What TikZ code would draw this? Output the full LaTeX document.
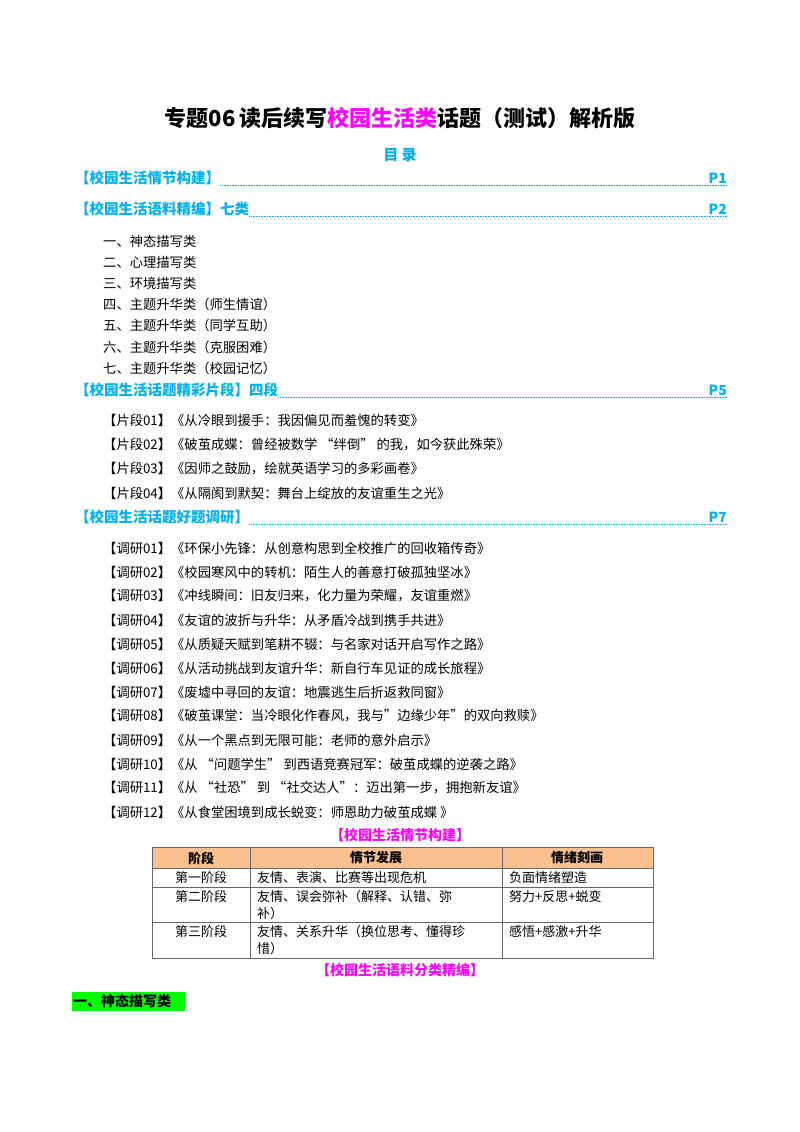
\documentclass[tikz,border=0pt]{standalone}
\usepackage{fontspec}
\setmainfont{Noto Sans CJK SC}
\definecolor{cy}{RGB}{0,176,240}
\definecolor{mg}{RGB}{255,0,255}
\definecolor{hd}{RGB}{250,192,143}
\definecolor{gr}{RGB}{0,255,0}
\begin{document}
\begin{tikzpicture}[x=1pt,y=-1pt,
  txt/.style={anchor=west,inner sep=0pt,font=\fontsize{13.3}{15}\selectfont},
  head/.style={anchor=west,inner sep=0pt,text=cy,font=\fontsize{14.5}{16}\selectfont\bfseries},
  pg/.style={anchor=east,inner sep=0pt,text=cy,font=\fontsize{14}{16}\selectfont\bfseries},
  lead/.style={cy,densely dotted,line width=0.6pt},
  cell/.style={anchor=west,inner sep=0pt,font=\fontsize{13}{14}\selectfont}]
\useasboundingbox (0,0) rectangle (800,1132);
\node[inner sep=0pt,font=\fontsize{22}{24}\selectfont\bfseries] (title) at (400,118) {专题06\,读后续写\textcolor{mg}{校园生活类}话题（测试）解析版};
\node[inner sep=0pt,text=cy,font=\fontsize{15}{16}\selectfont\bfseries] (mulu) at (400,155) {目\ 录};
\node[head] (h1) at (75,178) {【校园生活情节构建】};
\node[pg] (p1) at (727,178) {P1};
\draw[lead] ([yshift=-7]h1.east) -- ([yshift=-7]p1.east);
\node[head] (h2) at (75,209) {【校园生活语料精编】七类};
\node[pg] (p2) at (727,209) {P2};
\draw[lead] ([yshift=-7]h2.east) -- ([yshift=-7]p2.east);
\foreach \t [count=\i] in {一、神态描写类,二、心理描写类,三、环境描写类,四、主题升华类（师生情谊）,五、主题升华类（同学互助）,六、主题升华类（克服困难）,七、主题升华类（校园记忆）}
  \node[txt] (s\i) at (103,{241+21.2*(\i-1)}) {\t};
\node[head] (h3) at (75,390) {【校园生活话题精彩片段】四段};
\node[pg] (p3) at (727,390) {P5};
\draw[lead] ([yshift=-7]h3.east) -- ([yshift=-7]p3.east);
\node[txt] (f1) at (103,420) {【片段01】《从冷眼到援手：我因偏见而羞愧的转变》};
\node[txt] (f2) at (103,445) {【片段02】《破茧成蝶：曾经被数学\ “绊倒”\ 的我，如今获此殊荣》};
\node[txt] (f3) at (103,469) {【片段03】《因师之鼓励，绘就英语学习的多彩画卷》};
\node[txt] (f4) at (103,493) {【片段04】《从隔阂到默契：舞台上绽放的友谊重生之光》};
\node[head] (h4) at (75,517) {【校园生活话题好题调研】};
\node[pg] (p4) at (727,517) {P7};
\draw[lead] ([yshift=-7]h4.east) -- ([yshift=-7]p4.east);
\foreach \t [count=\i] in {
【调研01】《环保小先锋：从创意构思到全校推广的回收箱传奇》,
【调研02】《校园寒风中的转机：陌生人的善意打破孤独坚冰》,
【调研03】《冲线瞬间：旧友归来，化力量为荣耀，友谊重燃》,
【调研04】《友谊的波折与升华：从矛盾冷战到携手共进》,
【调研05】《从质疑天赋到笔耕不辍：与名家对话开启写作之路》,
【调研06】《从活动挑战到友谊升华：新自行车见证的成长旅程》,
【调研07】《废墟中寻回的友谊：地震逃生后折返救同窗》,
【调研08】《破茧课堂：当冷眼化作春风，我与"边缘少年"的双向救赎》,
【调研09】《从一个黑点到无限可能：老师的意外启示》,
【调研10】《从\ “问题学生”\ 到西语竞赛冠军：破茧成蝶的逆袭之路》,
【调研11】《从\ “社恐”\ 到\ “社交达人”：迈出第一步，拥抱新友谊》,
【调研12】《从食堂困境到成长蜕变：师恩助力破茧成蝶\ 》}
  \node[txt] (d\i) at (103,{548+24*(\i-1)}) {\t};
\node[inner sep=0pt,text=mg,font=\fontsize{14}{16}\selectfont\bfseries] (tt) at (400,835) {【校园生活情节构建】};
\fill[hd] (152,847) rectangle (653,868);
\draw[gray!80!black,line width=0.8pt] (152,847) rectangle (653,958);
\foreach \y in {868,887,922} \draw[gray!80!black,line width=0.6pt] (152,\y) -- (653,\y);
\foreach \x in {250,502} \draw[gray!80!black,line width=0.6pt] (\x,847) -- (\x,958);
\node[inner sep=0pt,font=\fontsize{13}{14}\selectfont\bfseries] (c0) at (201,858) {阶段};
\node[inner sep=0pt,font=\fontsize{13}{14}\selectfont\bfseries] (c1) at (376,858) {情节发展};
\node[inner sep=0pt,font=\fontsize{13}{14}\selectfont\bfseries] (c2) at (577,858) {情绪刻画};
\node[inner sep=0pt,font=\fontsize{13}{14}\selectfont] (r1) at (201,878) {第一阶段};
\node[inner sep=0pt,font=\fontsize{13}{14}\selectfont] (r2) at (201,897) {第二阶段};
\node[inner sep=0pt,font=\fontsize{13}{14}\selectfont] (r3) at (201,932) {第三阶段};
\node[cell] (a1) at (257,878) {友情、表演、比赛等出现危机};
\node[cell] (a2) at (257,897) {友情、误会弥补（解释、认错、弥};
\node[cell] (a2b) at (257,914) {补）};
\node[cell] (a3) at (257,932) {友情、关系升华（换位思考、懂得珍};
\node[cell] (a3b) at (257,949) {惜）};
\node[cell] (b1) at (509,878) {负面情绪塑造};
\node[cell] (b2) at (509,897) {努力+反思+蜕变};
\node[cell] (b3) at (509,932) {感悟+感激+升华};
\node[inner sep=0pt,text=mg,font=\fontsize{14}{16}\selectfont\bfseries] (t2) at (400,970) {【校园生活语料分类精编】};
\fill[gr] (72,992) rectangle (185,1011);
\node[anchor=west,inner sep=0pt,font=\fontsize{14}{16}\selectfont\bfseries] (g) at (73,1001.5) {一、神态描写类};
\end{tikzpicture}
\end{document}
